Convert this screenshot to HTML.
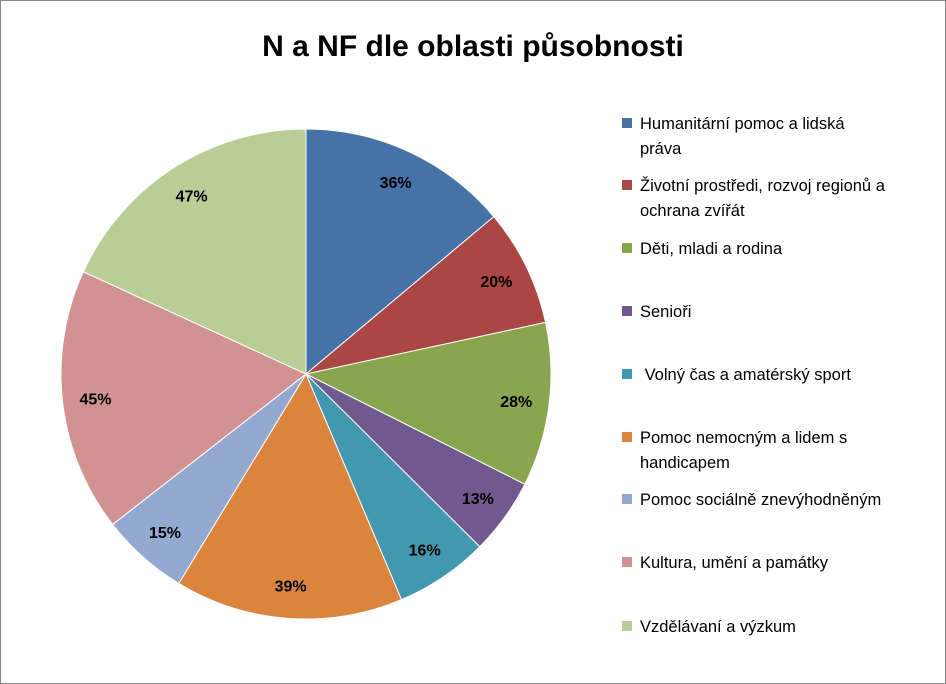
<!DOCTYPE html>
<html><head><meta charset="utf-8"><style>
body{margin:0;background:#fff}
svg{display:block}
</style></head><body>
<svg id="chart" width="946" height="684" xmlns="http://www.w3.org/2000/svg">
<rect x="0.5" y="0.5" width="945" height="683" fill="#fff" stroke="#868686"/>
<text x="473" y="56" text-anchor="middle" font-family="Liberation Sans, sans-serif" font-weight="bold" font-size="30" fill="#000">N a NF dle oblasti působnosti</text>
<g id="slices"></g>
<g id="labels"></g>
<g id="legend"></g>
</svg>
<script>
const categories=["Humanitární pomoc a lidská|práva","Životní prostředi, rozvoj regionů a|ochrana zvířát","Děti, mladi a rodina","Senioři"," Volný čas a amatérský sport","Pomoc nemocným a lidem s|handicapem","Pomoc sociálně znevýhodněným","Kultura, umění a památky","Vzdělávaní a výzkum"];
const values=[36,20,28,13,16,39,15,45,47];
const labels=["36%","20%","28%","13%","16%","39%","15%","45%","47%"];
const colors=["#4572A7","#AA4643","#89A54E","#71588F","#4198AF","#DB843D","#93A9CF","#D19392","#B9CD96"];
const NS="http://www.w3.org/2000/svg";
const cx=306,cy=374,R=245;
const total=values.reduce((a,b)=>a+b,0);
function pt(a,r){return [cx+r*Math.sin(a),cy-r*Math.cos(a)];}
let acc=0;
const gs=document.getElementById('slices'),gl=document.getElementById('labels'),gg=document.getElementById('legend');
values.forEach((v,i)=>{
  const a0=acc/total*2*Math.PI; acc+=v; const a1=acc/total*2*Math.PI;
  const p0=pt(a0,R),p1=pt(a1,R);
  const p=document.createElementNS(NS,'path');
  p.setAttribute('d',`M${cx},${cy}L${p0[0]},${p0[1]}A${R},${R} 0 ${a1-a0>Math.PI?1:0} 1 ${p1[0]},${p1[1]}Z`);
  p.setAttribute('fill',colors[i]);p.setAttribute('stroke','#fff');p.setAttribute('stroke-width','1');
  
  
  gs.appendChild(p);
  const m=pt((a0+a1)/2,R*0.865);
  const t=document.createElementNS(NS,'text');
  t.setAttribute('x',m[0]);t.setAttribute('y',m[1]+6);t.setAttribute('text-anchor','middle');
  t.setAttribute('font-family','Liberation Sans, sans-serif');t.setAttribute('font-weight','bold');t.setAttribute('font-size','16');
  t.textContent=labels[i];
  
  
  gl.appendChild(t);
});
const ly=[123,185,248,311,374,437,499,562,626];
categories.forEach((c,i)=>{
  const g=document.createElementNS(NS,'g');
  
  
  const r=document.createElementNS(NS,'rect');
  r.setAttribute('x',622);r.setAttribute('y',ly[i]-5);r.setAttribute('width',10);r.setAttribute('height',10);r.setAttribute('fill',colors[i]);
  
  
  g.appendChild(r);
  c.split('|').forEach((line,j)=>{
    const t=document.createElementNS(NS,'text');
    t.setAttribute('x',640);t.setAttribute('y',ly[i]+6+j*25);
    t.setAttribute('font-family','Liberation Sans, sans-serif');t.setAttribute('font-size','16.5');t.setAttribute('fill','#000');
    t.setAttribute('xml:space','preserve');t.style.whiteSpace='pre';
    t.textContent=line;
    
    
    g.appendChild(t);
  });
  gg.appendChild(g);
});
</script>
</body></html>
